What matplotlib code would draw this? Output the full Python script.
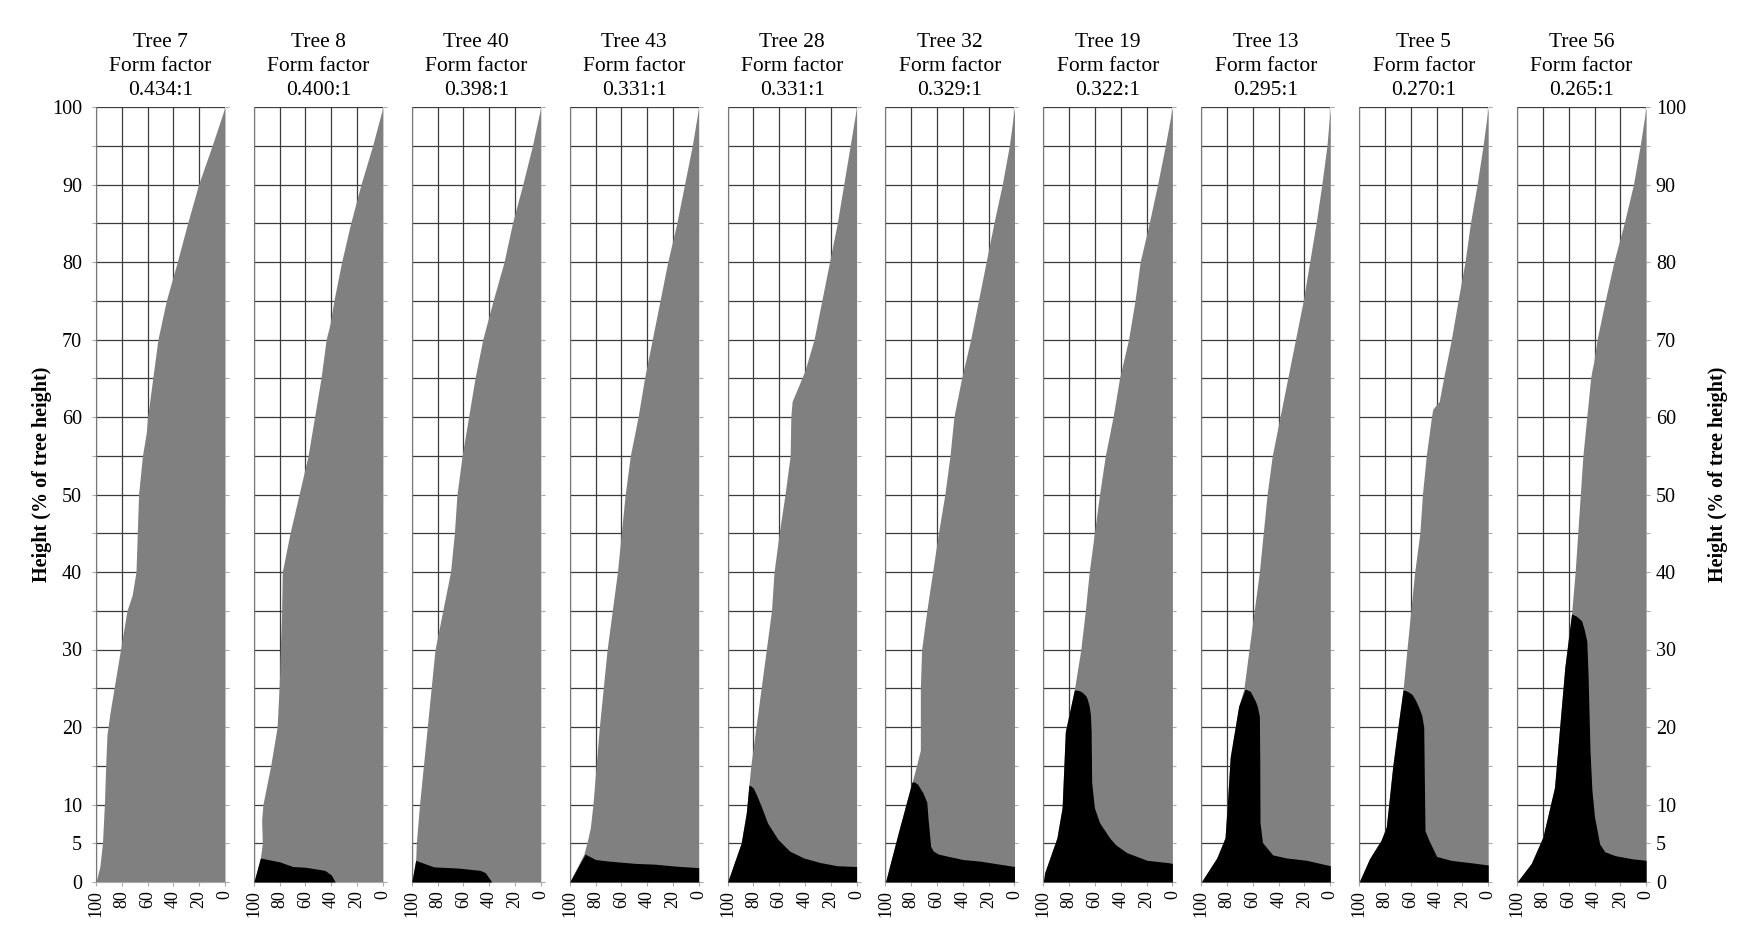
import numpy as np
import matplotlib.pyplot as plt

plt.rcParams['font.family'] = ['Liberation Serif', 'DejaVu Serif']

trees = ['7', '8', '40', '43', '28', '32', '19', '13', '5', '56']
form_factors = ['0.434:1', '0.400:1', '0.398:1', '0.331:1', '0.331:1',
                '0.329:1', '0.322:1', '0.295:1', '0.270:1', '0.265:1']

# outer stem profile: height (% of tree height) vs diameter (% of max)
h7 = [0, 2, 5, 10, 15, 19, 22, 25, 30, 35, 37, 40, 45, 50, 55, 58, 60, 65, 70, 75, 80, 85, 90, 95, 100]
x7 = [100, 97, 95, 93.5, 92.5, 91.5, 89, 86, 81, 76, 72, 69, 68, 67, 64, 61, 60, 56, 52, 45.5, 37, 29, 20.5, 10, 0]

h8 = [0, 3, 5, 8, 10, 15, 20, 25, 27, 30, 35, 40, 45, 50, 55, 60, 65, 70, 72, 75, 80, 85, 90, 95, 100]
x8 = [100, 95, 93.5, 94, 93, 87, 82, 80.5, 80, 79.5, 78.5, 78, 72, 65, 58, 53, 48, 44, 41, 38, 32, 25, 17, 8, 0]
bx8 = [37, 40, 45, 60, 70, 80, 95, 100]
bh8 = [0, 0.9, 1.5, 1.9, 2.0, 2.6, 3.1, 0]

h40 = [0, 2.8, 5, 10, 15, 20, 25, 30, 35, 40, 45, 50, 55, 60, 65, 70, 75, 80, 85, 90, 95, 100]
x40 = [100, 97, 96.5, 94, 91, 88, 85, 82, 76, 70, 67, 65, 61, 56, 51, 45, 37, 28.5, 22, 14, 6.5, 0]
bx40 = [38, 43, 47, 64, 83, 97, 100]
bh40 = [0, 1.2, 1.5, 1.8, 1.95, 2.8, 0]

h43 = [0, 3.6, 4.5, 5.5, 7, 10, 15, 20, 25, 30, 35, 40, 45, 50, 55, 60, 65, 70, 75, 80, 85, 90, 95, 100]
x43 = [100, 89, 87.5, 86, 84, 82, 79.5, 77, 74, 71, 67, 63, 60, 57, 53, 47, 42, 36, 30, 24, 17, 11, 5, 0]
bx43 = [0, 18, 34, 49, 70, 80, 88, 100]
bh43 = [1.85, 2.05, 2.3, 2.4, 2.7, 2.9, 3.6, 0]

h28 = [0, 5, 9, 12.5, 15, 20, 25, 30, 35, 40, 45, 50, 55, 60, 62, 64, 66, 70, 75, 80, 85, 90, 95, 100]
x28 = [100, 89.5, 85.5, 83.5, 82, 78, 74, 70, 66, 64, 60, 55.5, 51.5, 51, 50, 45, 40, 33, 27, 21, 15, 10, 5, 0]
bx28 = [0, 15, 28, 41, 52, 61, 69, 74, 78, 80, 82, 83.5, 85.5, 89.5, 100]
bh28 = [2.0, 2.1, 2.5, 3.1, 4.0, 5.5, 7.6, 9.8, 11.4, 12.1, 12.4, 12.5, 8.9, 5.0, 0]

h32 = [0, 6.4, 12.8, 15, 17, 20, 25, 30, 35, 40, 45, 50, 55, 60, 65, 70, 75, 80, 85, 90, 95, 100]
x32 = [100, 90, 79.5, 76, 73, 73, 73, 72, 68, 63.5, 59, 54, 50, 47, 41, 34, 28, 22, 16, 9.5, 4, 0]
bx32 = [0, 27, 40, 51, 59, 63, 65, 66, 67, 68, 71, 75, 77.5, 79.5, 90, 100]
bh32 = [2.0, 2.7, 2.9, 3.3, 3.6, 4.0, 4.6, 6.4, 8.1, 10.3, 11.5, 12.6, 12.9, 12.9, 6.4, 0]

h19 = [0, 1.2, 5.7, 9.6, 19.4, 24.8, 30, 35, 40, 45, 50, 55, 60, 65, 70, 75, 80, 85, 90, 95, 100]
x19 = [100, 99, 89.5, 85.5, 83, 76, 71, 67.5, 64.5, 60.5, 56.5, 52, 46, 41, 34, 29, 25, 18, 11.5, 5.5, 0]
bx19 = [0, 3.4, 19.7, 35.5, 44, 48.7, 56.6, 60.5, 62.6, 63, 63.5, 64.5, 66, 67, 70, 72.4, 76, 83, 85.5, 89.5, 99, 100]
bh19 = [2.4, 2.5, 2.8, 3.8, 4.8, 5.7, 7.7, 9.6, 12.9, 19.4, 21.5, 22.7, 23.6, 24, 24.5, 24.7, 24.8, 19.4, 9.6, 5.7, 1.2, 0]

h13 = [0, 3.1, 5.7, 9.6, 16.1, 22.7, 24.9, 30, 35, 40, 45, 50, 55, 60, 65, 70, 75, 80, 85, 90, 95, 100]
x13 = [100, 88, 81.6, 80, 77.6, 71, 67, 63, 59, 55, 52, 49, 45, 39, 33, 27, 21, 16, 11, 6.6, 2.6, 0]
bx13 = [0, 18.4, 34, 44.7, 52.6, 54.5, 54.7, 55, 56.5, 58, 62, 66, 71, 77.6, 80, 81.6, 88, 100]
bh13 = [2.1, 2.8, 3.1, 3.5, 5.1, 7.7, 16.1, 21.4, 22.6, 23.3, 24.6, 24.9, 22.7, 16.1, 9.6, 5.7, 3.1, 0]

h5 = [0, 3.0, 5.4, 7.1, 14.9, 20, 24.8, 30, 35, 40, 45, 50, 55, 60, 61, 62, 65, 70, 75, 80, 85, 90, 95, 100]
x5 = [100, 92, 83, 79, 74, 70, 66, 63, 60, 57, 53, 51, 48, 44, 43, 38, 34.6, 28.6, 23.4, 18, 13.8, 8.6, 4, 0]
bx5 = [0, 14, 29, 40, 46, 49, 50, 51.5, 54, 56.5, 59, 62.5, 66, 70, 74, 79, 83, 92, 100]
bh5 = [2.2, 2.5, 2.8, 3.3, 5.4, 6.6, 20, 21.5, 22.6, 23.5, 24.2, 24.6, 24.8, 20, 14.9, 7.1, 5.4, 3.0, 0]

h56 = [0, 2.4, 5.8, 12.2, 20, 27.7, 34.6, 40, 45, 50, 55, 60, 65, 66, 67, 70, 75, 80, 85, 90, 95, 100]
x56 = [100, 89, 80, 71, 67, 63, 57.8, 55, 53, 51, 49, 46, 43, 42, 40.7, 38, 31.7, 25, 17, 9.8, 4.6, 0]
bx56 = [0, 11, 24, 32, 36, 40, 42, 43.5, 45, 46, 48, 50, 54, 57.8, 63, 67, 71, 80, 89, 100]
bh56 = [2.8, 3.0, 3.4, 3.9, 4.9, 8.4, 11.8, 17, 26.8, 31.1, 32.6, 33.7, 34.3, 34.6, 27.7, 20, 12.2, 5.8, 2.4, 0]

profiles = [(h7, x7, None, None), (h8, x8, bx8, bh8), (h40, x40, bx40, bh40),
            (h43, x43, bx43, bh43), (h28, x28, bx28, bh28), (h32, x32, bx32, bh32),
            (h19, x19, bx19, bh19), (h13, x13, bx13, bh13), (h5, x5, bx5, bh5),
            (h56, x56, bx56, bh56)]

xticks = [100, 80, 60, 40, 20, 0]
yticks = np.arange(0, 101, 5)
ylabels = [str(v) if (v % 10 == 0 or v == 5) else '' for v in yticks]

W, H = 1740, 931
fig = plt.figure(figsize=(W / 100, H / 100), dpi=100)

n = len(trees)
for i in range(n):
    left = (96 + i * 157.9) / W
    ax = fig.add_axes([left, 49 / H, 129 / W, 775 / H])
    hh, xx, bx, bh = profiles[i]
    ax.fill_betweenx(hh, xx, 0, color='#808080', lw=0, zorder=2)
    if bx is not None:
        ax.fill_between(bx, 0, bh, color='black', lw=0, zorder=3)

    ax.set_xlim(100, 0)
    ax.set_ylim(0, 100)
    ax.set_xticks(xticks)
    ax.set_xticklabels([str(v) for v in xticks], rotation=90, fontsize=13)
    ax.set_yticks(yticks)
    ax.set_yticklabels(ylabels, fontsize=14.5)
    ax.grid(True, color='#3c3c3c', lw=0.9)
    ax.set_axisbelow(True)

    for s in ['top', 'right']:
        ax.spines[s].set_visible(False)
    ax.spines['left'].set_color('#777777')
    ax.spines['bottom'].set_color('#aaaaaa')
    ax.tick_params(axis='x', length=3, width=0.8, color='#aaaaaa', pad=3)
    ax.tick_params(axis='y', right=True, length=3, width=0.8, color='#aaaaaa',
                   labelleft=(i == 0), labelright=(i == n - 1),
                   left=(i == 0), pad=7 if i == 0 else 4)

    ax.set_title(f'Tree {trees[i]}\nForm factor\n{form_factors[i]}',
                 fontsize=15.5, linespacing=1.35, pad=9)

fig.text(42 / W, 1 - 474 / H, 'Height (% of tree height)', rotation=90,
         ha='center', va='center', fontsize=14.5, fontweight='bold')
fig.text(1718 / W, 1 - 474 / H, 'Height (% of tree height)', rotation=90,
         ha='center', va='center', fontsize=14.5, fontweight='bold')

fig.savefig('out.png', dpi=100, facecolor='white')
